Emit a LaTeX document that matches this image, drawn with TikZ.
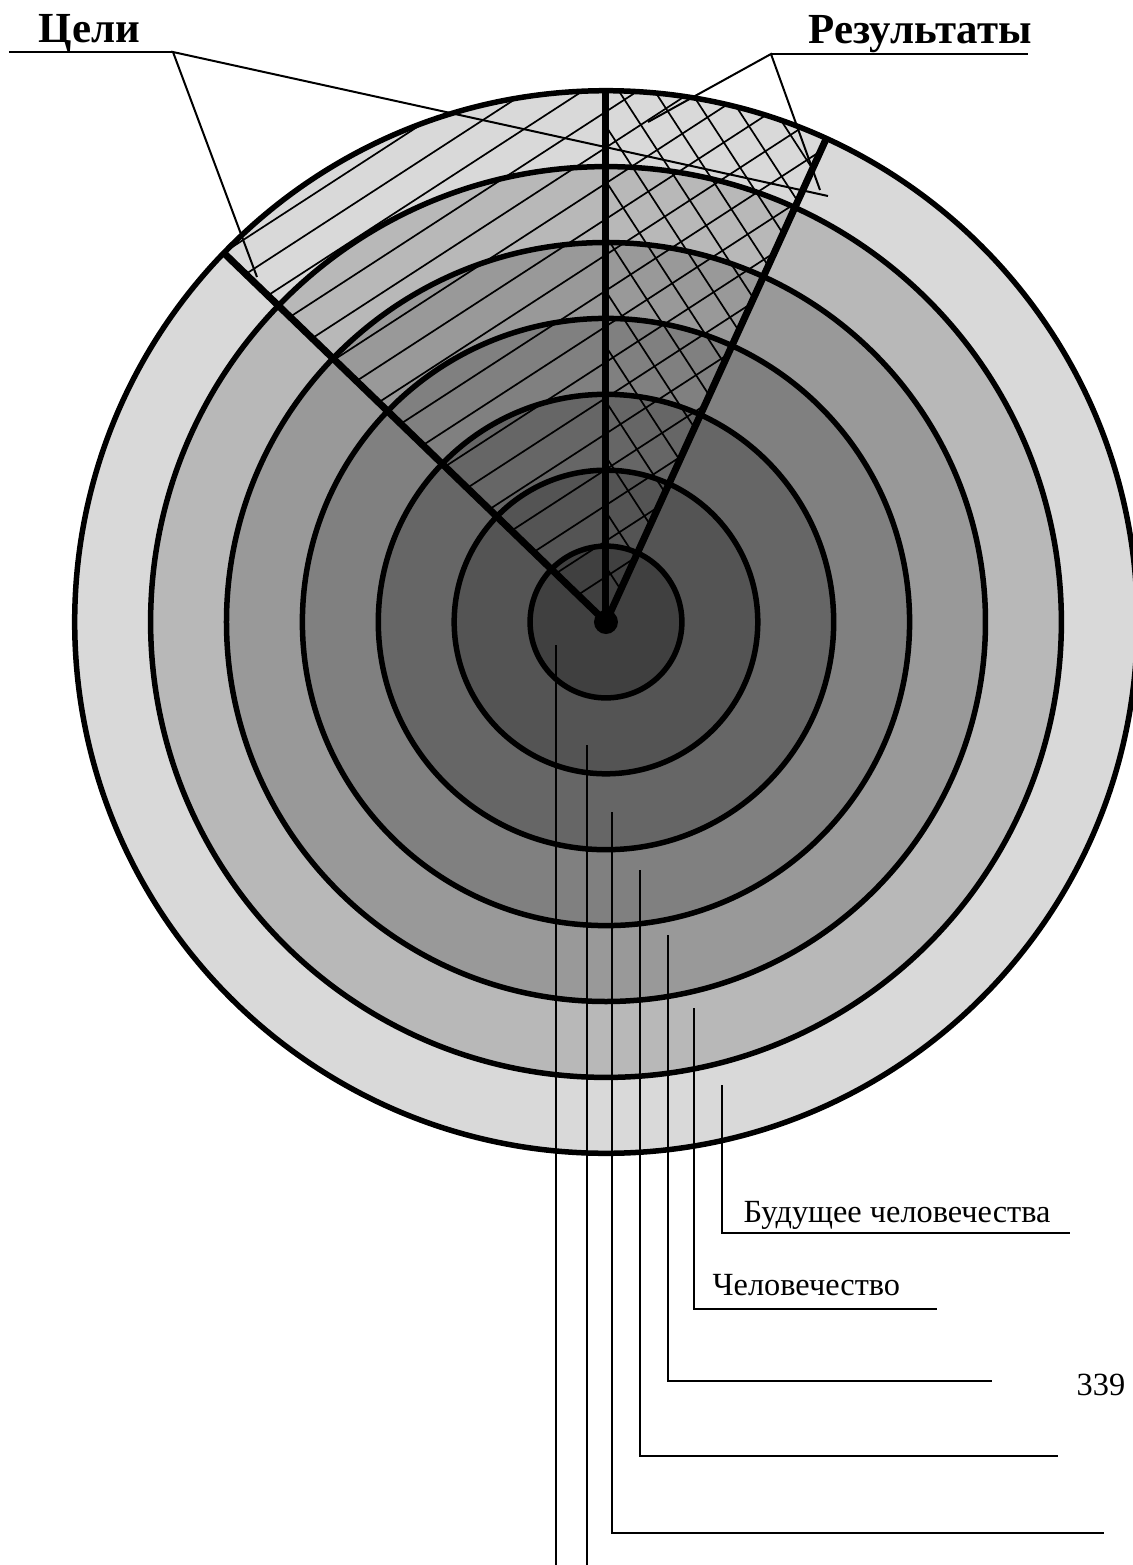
\documentclass[tikz,border=0pt]{standalone}
\usepackage{fontspec}
\setmainfont{Liberation Serif}
\begin{document}
\begin{tikzpicture}[x=0.1mm,y=0.1mm]
% Styles
\tikzstyle{anneau}=[line width=0.55mm]
\tikzstyle{rayon}=[line width=0.7mm]
\tikzstyle{hachure}=[line width=0.17mm]
\tikzstyle{renvoi}=[line width=0.2mm]
\tikzstyle{point}=[fill=black,circle,inner sep=0pt,minimum size=2.4mm]
\tikzstyle{titre}=[font=\fontsize{12.2}{15}\selectfont\bfseries,inner sep=0pt,anchor=base west]
\tikzstyle{etiquette}=[font=\fontsize{9.2}{11}\selectfont,inner sep=0pt,anchor=base west]
% Dimensions
\def\Pas{75.9}
\def\RayonMax{531}
\def\AngleCibles{136}
\def\AngleResultats{65.5}
\def\Ecart{30}
\useasboundingbox (-606,-943) rectangle (526,622);
% Anneaux
\draw[anneau,fill=black!15] (0,0) circle[radius=7*\Pas];
\draw[anneau,fill=black!28] (0,0) circle[radius=6*\Pas];
\draw[anneau,fill=black!40] (0,0) circle[radius=5*\Pas];
\draw[anneau,fill=black!50] (0,0) circle[radius=4*\Pas];
\draw[anneau,fill=black!60] (0,0) circle[radius=3*\Pas];
\draw[anneau,fill=black!67] (0,0) circle[radius=2*\Pas];
\draw[anneau,fill=black!75] (0,0) circle[radius=1*\Pas];
% Hachures
\begin{scope}
\clip (0,0) -- (90:\RayonMax) arc[start angle=90,end angle=\AngleCibles,radius=\RayonMax] -- cycle;
\begin{scope}[rotate=33]
\foreach \i in {-20,...,20}
  \draw[hachure] (-700,\i*\Ecart+8) -- (700,\i*\Ecart+8);
\end{scope}
\end{scope}
\begin{scope}
\clip (0,0) -- (\AngleResultats:\RayonMax) arc[start angle=\AngleResultats,end angle=90,radius=\RayonMax] -- cycle;
\begin{scope}[rotate=33]
\foreach \i in {-20,...,20}{
  \draw[hachure] (-700,\i*\Ecart+8) -- (700,\i*\Ecart+8);
  \draw[hachure] (\i*\Ecart,-700) -- (\i*\Ecart,700);
}
\end{scope}
\end{scope}
% Rayons
\node[point] (C) at (0,0) {};
\coordinate (Hc) at (\AngleCibles:\RayonMax);
\coordinate (Hn) at (90:\RayonMax);
\coordinate (Hr) at (\AngleResultats:\RayonMax);
\draw[rayon] (C.center) -- (Hc);
\draw[rayon] (C.center) -- (Hn);
\draw[rayon] (C.center) -- (Hr);
% Titres
\node[titre] (Cibles) at (-568,580) {Цели};
\node[titre] (Resultats) at (202,579) {Результаты};
\coordinate (CiblesG) at (-597,570);
\coordinate (CiblesD) at (-433,570);
\coordinate (CiblesA) at (-349,345);
\coordinate (CiblesB) at (222,426);
\draw[renvoi] (CiblesG) -- (CiblesD);
\draw[renvoi] (CiblesA) -- (CiblesD) -- (CiblesB);
\coordinate (ResultatsG) at (165,568);
\coordinate (ResultatsD) at (422,568);
\coordinate (ResultatsA) at (42,500);
\coordinate (ResultatsB) at (214,432);
\draw[renvoi] (ResultatsG) -- (ResultatsD);
\draw[renvoi] (ResultatsA) -- (ResultatsG) -- (ResultatsB);
% Renvois du bas
\coordinate (P1) at (-50,-23);
\coordinate (Q1) at (-50,-943);
\coordinate (P2) at (-19,-123);
\coordinate (Q2) at (-19,-943);
\coordinate (P3) at (6,-190);
\coordinate (Q3) at (6,-911);
\coordinate (R3) at (498,-911);
\coordinate (P4) at (34,-248);
\coordinate (Q4) at (34,-834);
\coordinate (R4) at (452,-834);
\coordinate (P5) at (62,-313);
\coordinate (Q5) at (62,-759);
\coordinate (R5) at (386,-759);
\coordinate (P6) at (88,-386);
\coordinate (Q6) at (88,-687);
\coordinate (R6) at (331,-687);
\coordinate (P7) at (116,-463);
\coordinate (Q7) at (116,-611);
\coordinate (R7) at (464,-611);
\draw[renvoi] (P1) -- (Q1);
\draw[renvoi] (P2) -- (Q2);
\draw[renvoi] (P3) -- (Q3) -- (R3);
\draw[renvoi] (P4) -- (Q4) -- (R4);
\draw[renvoi] (P5) -- (Q5) -- (R5);
\draw[renvoi] (P6) -- (Q6) -- (R6);
\draw[renvoi] (P7) -- (Q7) -- (R7);
\node[etiquette] (Humanite) at (106,-673) {Человечество};
\node[etiquette] (Avenir) at (137,-600) {Будущее человечества};
\node[etiquette] (Page) at (470,-773) {339};
\end{tikzpicture}
\end{document}
